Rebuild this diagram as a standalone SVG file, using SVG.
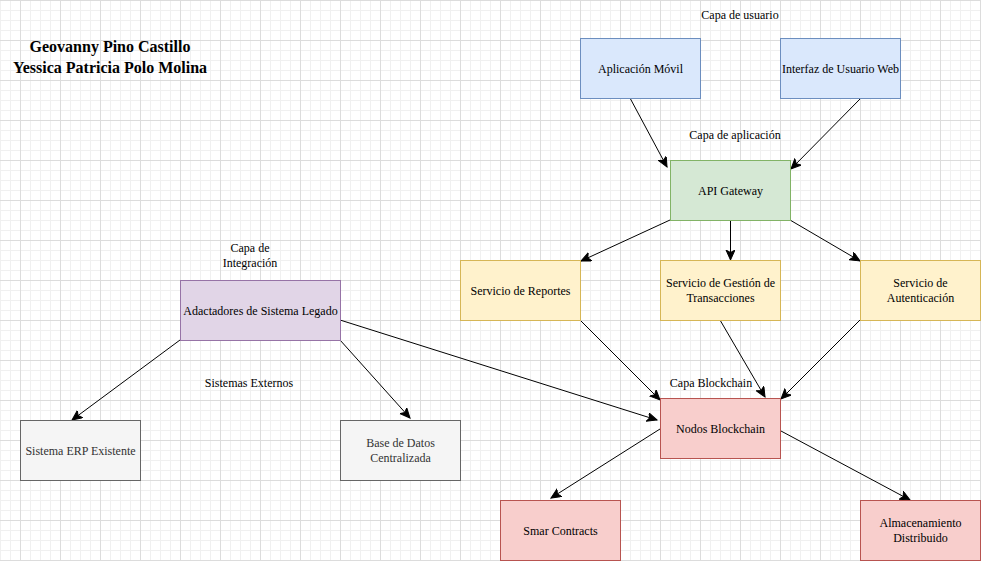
<svg xmlns="http://www.w3.org/2000/svg" width="981" height="561" viewBox="0 0 981 561">
<style>
.t{font-family:"Liberation Serif","Times New Roman",serif;font-size:12px;fill:#000;text-anchor:middle}
.g{fill:#333333}
.title{font-family:"Liberation Serif","Times New Roman",serif;font-size:16px;font-weight:bold;fill:#000;text-anchor:middle}
.c{fill:none;stroke:#000;stroke-width:1}
.blue{fill:#dae8fc;stroke:#6c8ebf}
.green{fill:#d5e8d4;stroke:#82b366}
.yellow{fill:#fff2cc;stroke:#d6b656}
.purple{fill:#e1d5e7;stroke:#9673a6}
.gray{fill:#f5f5f5;stroke:#666666}
.red{fill:#f8cecc;stroke:#b85450}
</style>
<defs>
<pattern id="minor" width="10" height="10" patternUnits="userSpaceOnUse" x="0" y="0">
<path d="M0,0.5H10M0.5,0V10" fill="none" stroke="#f0f0f0" stroke-width="1"/>
</pattern>
<pattern id="major" width="40" height="40" patternUnits="userSpaceOnUse" x="20" y="0">
<path d="M0,0.5H40M0.5,0V40" fill="none" stroke="#dcdcdc" stroke-width="1"/>
</pattern>
<marker id="arr" markerWidth="12" markerHeight="10" refX="10" refY="4.5" orient="auto" markerUnits="userSpaceOnUse">
<path d="M0,0 L10,4.5 L0,9 L2.5,4.5 Z" fill="#000" stroke="#000" stroke-width="1" stroke-linejoin="miter"/>
</marker>
</defs>
<rect width="981" height="561" fill="#ffffff"/>
<rect width="981" height="561" fill="url(#minor)"/>
<rect width="981" height="561" fill="url(#major)"/>

<g id="labels">
<text class="title" x="110" y="51.5">Geovanny Pino Castillo</text>
<text class="title" x="110" y="72.5">Yessica Patricia Polo Molina</text>
<text class="t" x="740" y="19">Capa de usuario</text>
<text class="t" x="735" y="139">Capa de aplicación</text>
<text class="t" x="250" y="252">Capa de</text>
<text class="t" x="250" y="267">Integración</text>
<text class="t" x="249" y="387">Sistemas Externos</text>
<text class="t" x="711" y="387">Capa Blockchain</text>
</g>

<g id="connectors">
<line class="c" x1="630" y1="98" x2="667" y2="167" marker-end="url(#arr)"/>
<line class="c" x1="860" y1="99" x2="791" y2="169" marker-end="url(#arr)"/>
<line class="c" x1="670" y1="220" x2="581" y2="261" marker-end="url(#arr)"/>
<line class="c" x1="730.5" y1="220" x2="730.5" y2="260" marker-end="url(#arr)"/>
<line class="c" x1="790" y1="220" x2="860" y2="261" marker-end="url(#arr)"/>
<line class="c" x1="580" y1="320" x2="660" y2="400" marker-end="url(#arr)"/>
<line class="c" x1="720" y1="320" x2="765" y2="397" marker-end="url(#arr)"/>
<line class="c" x1="860" y1="320" x2="781" y2="399" marker-end="url(#arr)"/>
<line class="c" x1="340" y1="320" x2="657" y2="420" marker-end="url(#arr)"/>
<line class="c" x1="180" y1="340" x2="72" y2="420" marker-end="url(#arr)"/>
<line class="c" x1="340" y1="340" x2="410" y2="418" marker-end="url(#arr)"/>
<line class="c" x1="660" y1="429" x2="551" y2="498" marker-end="url(#arr)"/>
<line class="c" x1="781" y1="431" x2="910" y2="500" marker-end="url(#arr)"/>
</g>

<g id="app-movil">
<rect class="blue" x="580.5" y="38.5" width="120" height="60"/>
<text class="t" x="640.5" y="72.5">Aplicación Móvil</text>
</g>
<g id="web-ui">
<rect class="blue" x="780.5" y="38.5" width="120" height="60"/>
<text class="t" x="840.5" y="72.5">Interfaz de Usuario Web</text>
</g>
<g id="api-gateway">
<rect class="green" x="670.5" y="160.5" width="120" height="60"/>
<text class="t" x="730.5" y="194.5">API Gateway</text>
</g>
<g id="reportes">
<rect class="yellow" x="460.5" y="260.5" width="120" height="60"/>
<text class="t" x="520.5" y="294.5">Servicio de Reportes</text>
</g>
<g id="transacciones">
<rect class="yellow" x="660.5" y="260.5" width="120" height="60"/>
<text class="t" x="720.5" y="287">Servicio de Gestión de</text>
<text class="t" x="720.5" y="302">Transacciones</text>
</g>
<g id="autenticacion">
<rect class="yellow" x="860.5" y="260.5" width="120" height="60"/>
<text class="t" x="920.5" y="287">Servicio de</text>
<text class="t" x="920.5" y="302">Autenticación</text>
</g>
<g id="adaptadores">
<rect class="purple" x="180.5" y="280.5" width="160" height="60"/>
<text class="t" x="260.5" y="314.5">Adactadores de Sistema Legado</text>
</g>
<g id="erp">
<rect class="gray" x="20.5" y="420.5" width="120" height="60"/>
<text class="t g" x="80.5" y="454.5">Sistema ERP Existente</text>
</g>
<g id="base-datos">
<rect class="gray" x="340.5" y="420.5" width="120" height="60"/>
<text class="t g" x="400.5" y="447">Base de Datos</text>
<text class="t g" x="400.5" y="462">Centralizada</text>
</g>
<g id="nodos">
<rect class="red" x="660.5" y="398.5" width="120" height="60"/>
<text class="t" x="720.5" y="432.5">Nodos Blockchain</text>
</g>
<g id="smart-contracts">
<rect class="red" x="500.5" y="500.5" width="120" height="60"/>
<text class="t" x="560.5" y="534.5">Smar Contracts</text>
</g>
<g id="almacenamiento">
<rect class="red" x="860.5" y="500.5" width="120" height="60"/>
<text class="t" x="920.5" y="527">Almacenamiento</text>
<text class="t" x="920.5" y="542">Distribuido</text>
</g>
</svg>
